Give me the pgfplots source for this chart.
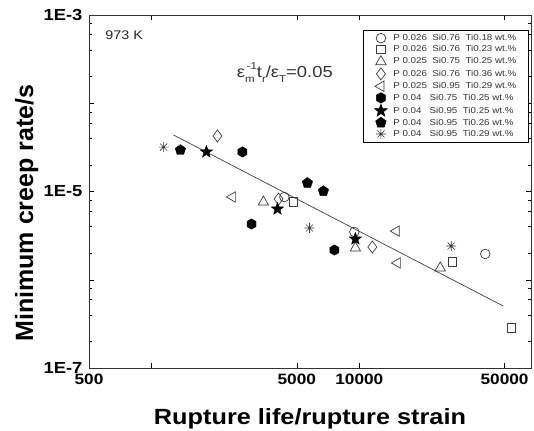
\documentclass[border=0pt]{standalone}
\usepackage{fontspec}
\setmainfont{Liberation Sans}
\newfontfamily\wide{Liberation Sans}[FakeStretch=1.15]
\usepackage{pgfplots}
\pgfplotsset{compat=1.18}
\usetikzlibrary{calc}

\pgfdeclareplotmark{hexagon*}{%
  \pgfpathmoveto{\pgfpointpolar{90}{\pgfplotmarksize}}%
  \pgfpathlineto{\pgfpointpolar{150}{\pgfplotmarksize}}%
  \pgfpathlineto{\pgfpointpolar{210}{\pgfplotmarksize}}%
  \pgfpathlineto{\pgfpointpolar{270}{\pgfplotmarksize}}%
  \pgfpathlineto{\pgfpointpolar{330}{\pgfplotmarksize}}%
  \pgfpathlineto{\pgfpointpolar{30}{\pgfplotmarksize}}%
  \pgfpathclose\pgfusepathqfillstroke}
\pgfdeclareplotmark{fstar}{%
  \pgfpathmoveto{\pgfpointpolar{90}{\pgfplotmarksize}}%
  \pgfpathlineto{\pgfpointpolar{126}{0.42\pgfplotmarksize}}%
  \pgfpathlineto{\pgfpointpolar{162}{\pgfplotmarksize}}%
  \pgfpathlineto{\pgfpointpolar{198}{0.42\pgfplotmarksize}}%
  \pgfpathlineto{\pgfpointpolar{234}{\pgfplotmarksize}}%
  \pgfpathlineto{\pgfpointpolar{270}{0.42\pgfplotmarksize}}%
  \pgfpathlineto{\pgfpointpolar{306}{\pgfplotmarksize}}%
  \pgfpathlineto{\pgfpointpolar{342}{0.42\pgfplotmarksize}}%
  \pgfpathlineto{\pgfpointpolar{18}{\pgfplotmarksize}}%
  \pgfpathlineto{\pgfpointpolar{54}{0.42\pgfplotmarksize}}%
  \pgfpathclose\pgfusepathqfillstroke}
\pgfdeclareplotmark{ast8}{%
  \pgfpathmoveto{\pgfqpoint{0pt}{\pgfplotmarksize}}\pgfpathlineto{\pgfqpoint{0pt}{-\pgfplotmarksize}}%
  \pgfpathmoveto{\pgfqpoint{\pgfplotmarksize}{0pt}}\pgfpathlineto{\pgfqpoint{-\pgfplotmarksize}{0pt}}%
  \pgfpathmoveto{\pgfpointpolar{45}{\pgfplotmarksize}}\pgfpathlineto{\pgfpointpolar{225}{\pgfplotmarksize}}%
  \pgfpathmoveto{\pgfpointpolar{135}{\pgfplotmarksize}}\pgfpathlineto{\pgfpointpolar{315}{\pgfplotmarksize}}%
  \pgfusepathqstroke}

\definecolor{mk}{HTML}{3A3A3A}

\begin{document}
\begin{tikzpicture}
\begin{axis}[
  name=ax,
  scale only axis, width=442pt, height=353pt,
  xmode=log, ymode=log,
  xmin=500, xmax=67000, ymin=1e-7, ymax=1e-3,
  xtick={500,1000,5000,10000,50000},
  xticklabels={500,{},5000,10000,50000},
  ytick={1e-7,1e-6,1e-5,1e-4,1e-3},
  yticklabels={1E-7,{},1E-5,{},1E-3},
  minor ytick={2e-7,4e-7,6e-7,8e-7,2e-6,4e-6,6e-6,8e-6,2e-5,4e-5,6e-5,8e-5,2e-4,4e-4,6e-4,8e-4},
  minor xtick={},
  tick align=inside,
  major tick length=5pt, minor tick length=3pt,
  every tick/.style={black, line width=0.5pt},
  axis line style={line width=0.6pt, black!80},
  xticklabel style={font=\wide\bfseries\fontsize{15}{15}\selectfont, yshift=-2pt},
  yticklabel style={font=\wide\bfseries\fontsize{16}{16}\selectfont, xshift=-3pt},
  xlabel={Rupture life/rupture strain},
  xlabel style={font=\wide\bfseries\fontsize{22}{22}\selectfont, at={(axis description cs:0.5,0)}, anchor=base, yshift=-56pt},
  ylabel={Minimum creep rate/s},
  ylabel style={font=\bfseries\fontsize{25}{25}\selectfont, at={(axis description cs:-0.1267,0.439)}, anchor=base},
  legend style={at={(rel axis cs:0.995,0.958)}, anchor=north east, draw=black, line width=0.6pt,
    font=\wide\fontsize{8.5}{9}\selectfont, text=black!80, row sep=1.2pt, column sep=5pt, inner xsep=11pt, inner ysep=3pt,
    nodes={inner sep=1.2pt}},
  legend cell align=left,
  legend image code/.code={\draw[#1] plot coordinates {(0.3cm,0cm)};},
  clip=false,
]
\addplot[mk, only marks, mark=o, mark size=4.8pt, line width=0.7pt] coordinates {
 (9460,3.48e-6) (40360,1.96e-6) (4358,8.66e-6)};
\addlegendentry{P 0.026 \ Si0.76 \ Ti0.18 wt.\%}
\addplot[mk, only marks, mark=square, mark size=4.3pt, line width=0.7pt] coordinates {
 (4819,7.6e-6) (28000,1.59e-6) (53800,2.84e-7)};
\addlegendentry{P 0.026 \ Si0.76 \ Ti0.23 wt.\%}
\addplot[mk, only marks, mark=triangle, mark size=6pt, line width=0.7pt] coordinates {
 (3453,7.6e-6) (9570,2.29e-6) (24500,1.36e-6)};
\addlegendentry{P 0.025 \ Si0.75 \ Ti0.25 wt.\%}
\addplot[mk, only marks, mark=diamond, mark size=6pt, line width=0.7pt] coordinates {
 (2075,4.26e-5) (4085,8.22e-6) (11550,2.35e-6)};
\addlegendentry{P 0.026 \ Si0.76 \ Ti0.36 wt.\%}
\addplot[mk, only marks, mark=triangle, mark size=6pt, mark options={rotate=90}, line width=0.7pt] coordinates {
 (2449,8.67e-6) (15060,3.56e-6) (15240,1.55e-6)};
\addlegendentry{P 0.025 \ Si0.95 \ Ti0.29 wt.\%}
\addplot[black, fill=black, only marks, mark=hexagon*, mark size=5.2pt] coordinates {
 (2738,2.81e-5) (3027,4.28e-6) (7586,2.17e-6)};
\addlegendentry{P 0.04 \ \ Si0.75 \ Ti0.25 wt.\%}
\addplot[black, fill=black, only marks, mark=fstar, mark size=6.5pt] coordinates {
 (1836,2.81e-5) (4036,6.34e-6) (9570,2.90e-6)};
\addlegendentry{P 0.04 \ \ Si0.95 \ Ti0.25 wt.\%}
\addplot[black, fill=black, only marks, mark=pentagon*, mark size=5.5pt] coordinates {
 (1377,2.95e-5) (5623,1.25e-5) (6714,1.01e-5)};
\addlegendentry{P 0.04 \ \ Si0.95 \ Ti0.26 wt.\%}
\addplot[mk, only marks, mark=ast8, mark size=5pt, line width=0.6pt] coordinates {
 (1143,3.19e-5) (5754,3.86e-6) (27670,2.41e-6)};
\addlegendentry{P 0.04 \ \ Si0.95 \ Ti0.29 wt.\%}
\addplot[black!75, line width=0.7pt, no marks, forget plot] coordinates {
 (1276,4.37e-5) (49250,5.04e-7)};
\node[anchor=base west, font=\wide\fontsize{12.5}{13}\selectfont, text=black!85] at (rel axis cs:0.029,0.932) {973 K};
\node[anchor=base, font=\wide\fontsize{16}{16}\selectfont, text=black!80] at (rel axis cs:0.443,0.823)
 {ε\rlap{\raisebox{-0.6ex}{\fontsize{10}{10}\selectfont m}}\raisebox{1.0ex}{\fontsize{10}{10}\selectfont \,-1}t\raisebox{-0.6ex}{\fontsize{10}{10}\selectfont r}/ε\raisebox{-0.6ex}{\fontsize{10}{10}\selectfont T}=0.05};
\end{axis}
\pgfresetboundingbox
\path ($(ax.south west)+(-89pt,-62pt)$) rectangle ($(ax.north east)+(3pt,15pt)$);
\end{tikzpicture}
\end{document}
